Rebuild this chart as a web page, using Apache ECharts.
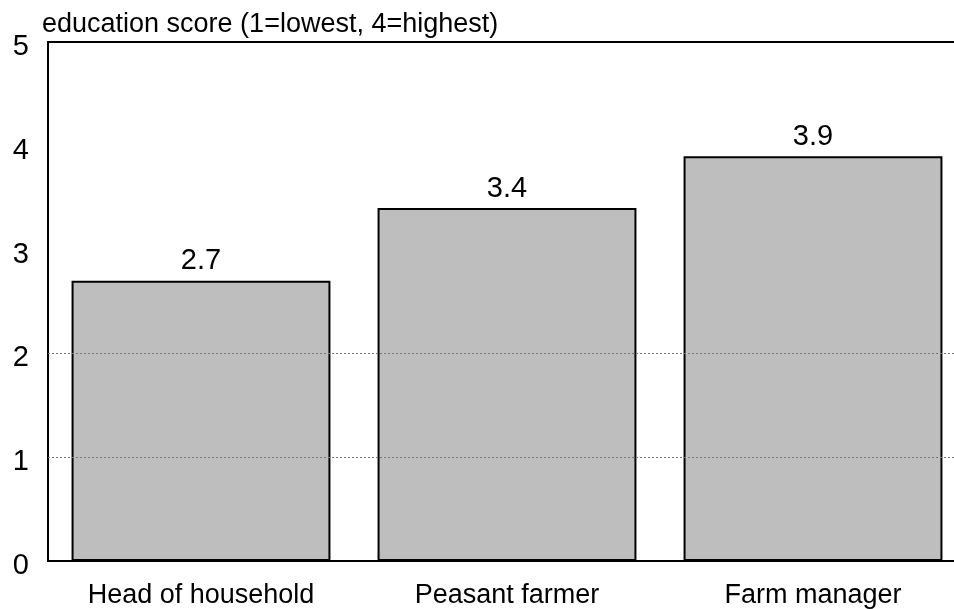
<!DOCTYPE html>
<html><head><meta charset="utf-8">
<script src="https://cdn.jsdelivr.net/npm/echarts@6/dist/echarts.min.js"></script>
<style>html,body{margin:0;padding:0;background:#fff}#c{width:954px;height:609px}</style>
</head><body><div id="c"></div>
<script>
var categories = ["Head of household", "Peasant farmer", "Farm manager"];
var scores = [2.7, 3.4, 3.9];
var gridValues = [1, 2];
var yTicks = [0, 1, 2, 3, 4, 5];
var titleText = "education score (1=lowest, 4=highest)";

var FONT = "Liberation Sans, Arial, Helvetica, sans-serif";
var chart = echarts.init(document.getElementById('c'), null, {renderer: 'canvas'});
chart.setOption({
  animation: false,
  backgroundColor: '#fff',
  title: {text: titleText, left: 37, top: 6,
    textStyle: {fontFamily: FONT, fontSize: 27, fontWeight: 'normal', color: '#000'}},
  grid: {left: 48, top: 42, width: 918, height: 519, show: true,
    outerBoundsMode: 'none', containLabel: false,
    borderColor: '#000', borderWidth: 2, backgroundColor: 'transparent'},
  xAxis: {type: 'category', data: categories,
    axisLine: {show: true, lineStyle: {color: '#000', width: 2}},
    axisTick: {show: false},
    axisLabel: {color: '#000', fontFamily: FONT, fontSize: 27, margin: 21}},
  yAxis: {type: 'value', min: yTicks[0], max: yTicks[yTicks.length-1], interval: 1,
    axisLine: {show: true, lineStyle: {color: '#000', width: 2}},
    axisTick: {show: false},
    splitLine: {show: false},
    axisLabel: {color: '#000', fontFamily: FONT, fontSize: 29, margin: 19,
      verticalAlign: 'top', lineHeight: 10}},
  series: [
    {type: 'line', data: [], z: 1, silent: true,
      markLine: {silent: true, symbol: 'none', label: {show: false},
        lineStyle: {type: [2, 2], color: '#777', width: 1},
        data: gridValues.map(function(v){return {yAxis: v};})}},
    {type: 'bar', data: scores, z: 3, barCategoryGap: '15.4%',
      itemStyle: {color: '#bebebe', borderColor: '#000', borderWidth: 2},
      label: {show: true, position: 'top', distance: 5, color: '#000',
        fontFamily: FONT, fontSize: 29,
        formatter: function(p){return p.value.toFixed(1);}}}
  ]
});
</script></body></html>
